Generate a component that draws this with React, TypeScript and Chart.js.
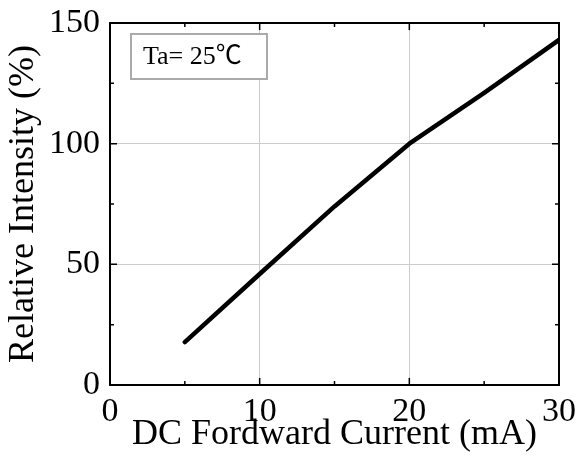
import { useEffect, useRef } from 'react';
import { Chart, registerables } from 'chart.js';

Chart.register(...registerables);

const currents = [5, 10, 15, 20, 25, 30];
const intensity = [17.8, 46, 74, 100, 121, 143];
const xMinorTicks = [5, 15, 25];
const yMinorTicks = [25, 75, 125];
const xTitle = 'DC Fordward Current (mA)';
const yTitle = 'Relative Intensity (%)';
const noteText = 'Ta= 25℃';

const SERIF = '"Liberation Serif", "Times New Roman", serif';

const framePlugin = {
  id: 'frame',
  afterDatasetsDraw(chart: any) {
    const { ctx, chartArea: a, scales } = chart;
    const xs = scales.x;
    const ys = scales.y;
    ctx.save();
    ctx.strokeStyle = '#000';
    ctx.lineWidth = 1.5;
    const major = 7;
    const minor = 4;
    const drawX = (v: number, len: number) => {
      const px = xs.getPixelForValue(v);
      ctx.beginPath();
      ctx.moveTo(px, a.bottom);
      ctx.lineTo(px, a.bottom - len);
      ctx.moveTo(px, a.top);
      ctx.lineTo(px, a.top + len);
      ctx.stroke();
    };
    const drawY = (v: number, len: number) => {
      const py = ys.getPixelForValue(v);
      ctx.beginPath();
      ctx.moveTo(a.left, py);
      ctx.lineTo(a.left + len, py);
      ctx.moveTo(a.right, py);
      ctx.lineTo(a.right - len, py);
      ctx.stroke();
    };
    xs.ticks.forEach((t: any) => drawX(t.value, major));
    ys.ticks.forEach((t: any) => drawY(t.value, major));
    xMinorTicks.forEach((v) => drawX(v, minor));
    yMinorTicks.forEach((v) => drawY(v, minor));
    ctx.lineWidth = 2;
    ctx.strokeRect(a.left, a.top, a.right - a.left, a.bottom - a.top);

    // annotation box
    const bx = a.left + 21;
    const by = a.top + 11;
    const bw = 136;
    const bh = 45;
    ctx.fillStyle = '#fff';
    ctx.fillRect(bx, by, bw, bh);
    ctx.strokeStyle = '#aaaaaa';
    ctx.lineWidth = 2;
    ctx.strokeRect(bx, by, bw, bh);
    ctx.fillStyle = '#000';
    ctx.font = '26px "Liberation Serif", "Noto Sans CJK SC", serif';
    ctx.textBaseline = 'middle';
    ctx.textAlign = 'left';
    ctx.fillText(noteText, bx + 12, by + bh / 2 + 1);
    ctx.restore();
  },
};

export default function App() {
  const ref = useRef<HTMLCanvasElement | null>(null);
  useEffect(() => {
    if (!ref.current) return;
    const chart = new Chart(ref.current, {
      type: 'line',
      data: {
        datasets: [
          {
            data: currents.map((x, i) => ({ x, y: intensity[i] })),
            borderColor: '#000',
            borderWidth: 4.5,
            pointRadius: 0,
            tension: 0,
            borderCapStyle: 'round',
            borderJoinStyle: 'round',
          },
        ],
      },
      options: {
        animation: false,
        responsive: false,
        devicePixelRatio: 1,
        layout: { padding: { top: 23, right: 21, left: 0, bottom: 0 } },
        plugins: { legend: { display: false }, tooltip: { enabled: false } },
        scales: {
          x: {
            type: 'linear',
            min: 0,
            max: 30,
            afterFit: (s: any) => {
              s.height = 79;
              s.paddingLeft = 0;
              s.paddingRight = 0;
            },
            ticks: {
              stepSize: 10,
              color: '#000',
              padding: 7,
              font: { family: SERIF, size: 34 },
              maxRotation: 0,
            },
            grid: { color: '#cccccc', lineWidth: 1, drawTicks: false },
            border: { display: false },
            title: {
              display: true,
              text: xTitle,
              color: '#000',
              font: { family: SERIF, size: 36 },
              padding: { top: 0, bottom: 8 },
            },
          },
          y: {
            type: 'linear',
            min: 0,
            max: 150,
            afterFit: (s: any) => {
              s.width = 110;
              s.paddingTop = 0;
              s.paddingBottom = 0;
            },
            ticks: {
              stepSize: 50,
              color: '#000',
              padding: 10,
              font: { family: SERIF, size: 34 },
            },
            grid: { color: '#cccccc', lineWidth: 1, drawTicks: false },
            border: { display: false },
            title: {
              display: true,
              text: yTitle,
              color: '#000',
              font: { family: SERIF, size: 36 },
              padding: { top: 2, bottom: 0 },
            },
          },
        },
      },
      plugins: [framePlugin],
    } as any);
    return () => chart.destroy();
  }, []);
  return (
    <div style={{ position: 'absolute', left: 0, top: 0, width: 580, height: 464, background: '#fff' }}>
      <canvas ref={ref} width={580} height={464} style={{ display: 'block' }} />
    </div>
  );
}
